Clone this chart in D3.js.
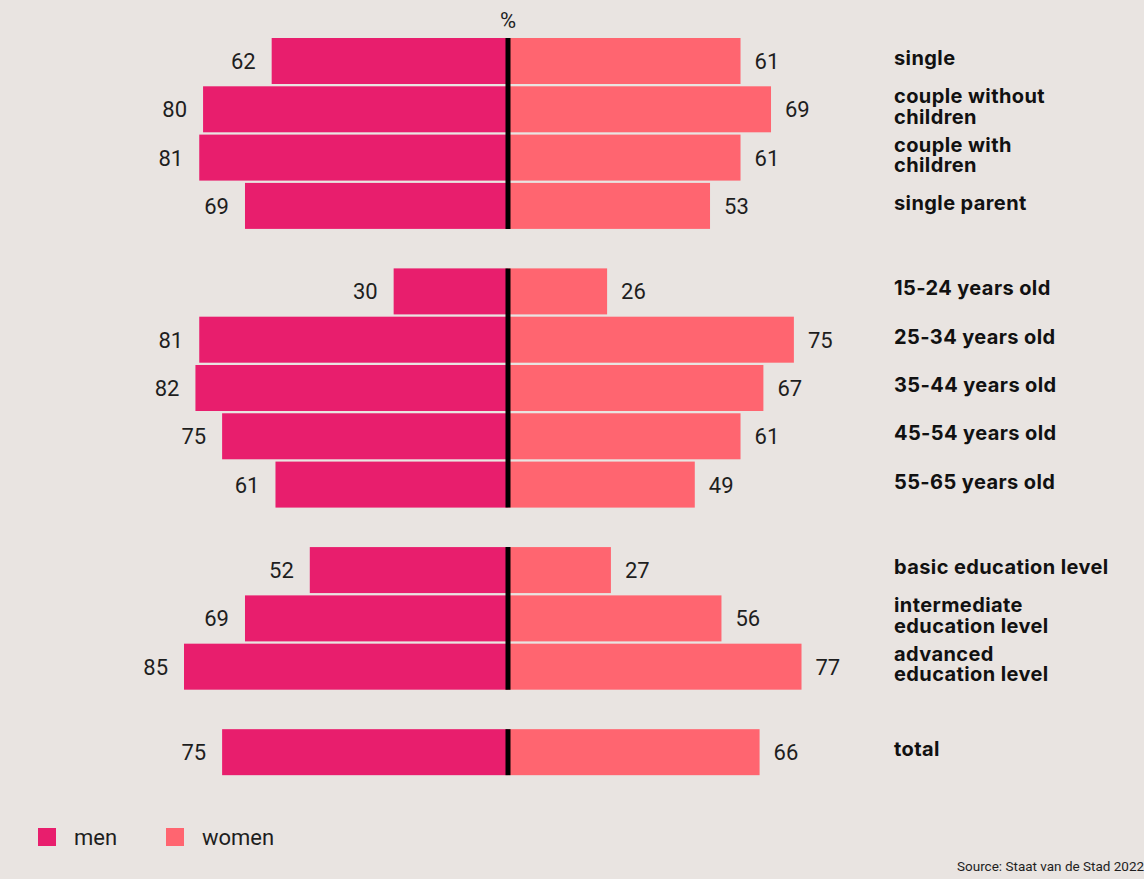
<!DOCTYPE html>
<html>
<head>
<meta charset="utf-8">
<script src="https://cdn.jsdelivr.net/npm/d3@7"></script>
<style>
  body { margin: 0; background: #e9e4e1; }
  svg { display: block; }
  .val { font-family: Roboto, "Liberation Sans", sans-serif; font-size: 22px; fill: #1e1e1e; }
  .cat { font-family: Inter, Roboto, sans-serif; font-size: 20px; font-weight: 700; fill: #111; letter-spacing: 0.4px; }
  .leg { font-family: Roboto, "Liberation Sans", sans-serif; font-size: 22px; fill: #1e1e1e; }
  .src { font-family: Roboto, "Liberation Sans", sans-serif; font-size: 13.5px; fill: #1e1e1e; }
</style>
</head>
<body>
<div id="chart"></div>
<script>
// each label line separated by "|"
const categories = [
    "single", "couple without|children", "couple with|children", "single parent",
    "15-24 years old", "25-34 years old", "35-44 years old", "45-54 years old", "55-65 years old",
    "basic education level", "intermediate|education level", "advanced|education level",
    "total"
];
const groups = [0, 0, 0, 0, 1, 1, 1, 1, 1, 2, 2, 2, 3];
const men = [62, 80, 81, 69, 30, 81, 82, 75, 61, 52, 69, 85, 75];
const women = [61, 69, 61, 53, 26, 75, 67, 61, 49, 27, 56, 77, 66];
const seriesNames = ["men", "women"];
const colors = ["#e81e6d", "#ff6570"];

let width = 1144, height = 879;
let cx = 508;
let barH = 46;

let rows = categories.map((c, i) => ({
    label: c, group: groups[i], men: men[i], women: women[i], slot: i + groups[i] * 0.77
}));

let svg = d3.select("#chart")
    .append("svg")
    .attr("width", width)
    .attr("height", height);

svg.append("rect")
    .attr("width", width)
    .attr("height", height)
    .attr("fill", "#e9e4e1");

let xLen = d3.scaleLinear().domain([0, 85]).range([0, 324]);
let yPos = d3.scaleLinear().domain([0, 1]).range([38, 86.3]);

// men bars
svg.selectAll(".men")
    .data(rows)
    .join("rect")
    .attr("class", "men")
    .attr("x", d => cx - xLen(d.men))
    .attr("y", d => yPos(d.slot))
    .attr("width", d => xLen(d.men))
    .attr("height", barH)
    .attr("fill", colors[0]);

// women bars
svg.selectAll(".women")
    .data(rows)
    .join("rect")
    .attr("class", "women")
    .attr("x", cx)
    .attr("y", d => yPos(d.slot))
    .attr("width", d => xLen(d.women))
    .attr("height", barH)
    .attr("fill", colors[1]);

// centre line per group
let groupIds = [0, 1, 2, 3];
svg.selectAll(".axis")
    .data(groupIds)
    .join("line")
    .attr("class", "axis")
    .attr("x1", cx).attr("x2", cx)
    .attr("y1", g => yPos(d3.min(rows.filter(r => r.group === g), r => r.slot)))
    .attr("y2", g => yPos(d3.max(rows.filter(r => r.group === g), r => r.slot)) + barH)
    .attr("stroke", "#000")
    .attr("stroke-width", 5);

svg.append("text")
    .attr("class", "val")
    .attr("x", cx)
    .attr("y", 28)
    .attr("text-anchor", "middle")
    .style("font-size", "22px")
    .text("%");

// values
svg.selectAll(".menval")
    .data(rows)
    .join("text")
    .attr("class", "val menval")
    .attr("x", d => cx - xLen(d.men) - 16)
    .attr("y", d => yPos(d.slot) + barH / 2 + 8)
    .attr("text-anchor", "end")
    .text(d => d.men);

svg.selectAll(".womenval")
    .data(rows)
    .join("text")
    .attr("class", "val womenval")
    .attr("x", d => cx + xLen(d.women) + 14)
    .attr("y", d => yPos(d.slot) + barH / 2 + 8)
    .text(d => d.women);

// category labels
let lineH = 20.6;
let cats = svg.selectAll(".cat")
    .data(rows)
    .join("text")
    .attr("class", "cat")
    .attr("x", 894)
    .attr("y", d => {
        let n = d.label.split("|").length;
        return yPos(d.slot) + barH / 2 + 4 - (n - 1) * 10;
    });

cats.selectAll("tspan")
    .data(d => d.label.split("|"))
    .join("tspan")
    .attr("x", 894)
    .attr("dy", (d, i) => i === 0 ? 0 : lineH)
    .text(d => d);

// legend
let leg = svg.selectAll(".legitem")
    .data(seriesNames)
    .join("g")
    .attr("class", "legitem")
    .attr("transform", (d, i) => "translate(" + (38 + i * 128) + ",828)");

leg.append("rect")
    .attr("width", 18)
    .attr("height", 18)
    .attr("fill", (d, i) => colors[i]);

leg.append("text")
    .attr("class", "leg")
    .attr("x", 36)
    .attr("y", 17)
    .text(d => d);

svg.append("text")
    .attr("class", "src")
    .attr("x", 957)
    .attr("y", 871)
    .text("Source: Staat van de Stad 2022");
</script>
</body>
</html>
